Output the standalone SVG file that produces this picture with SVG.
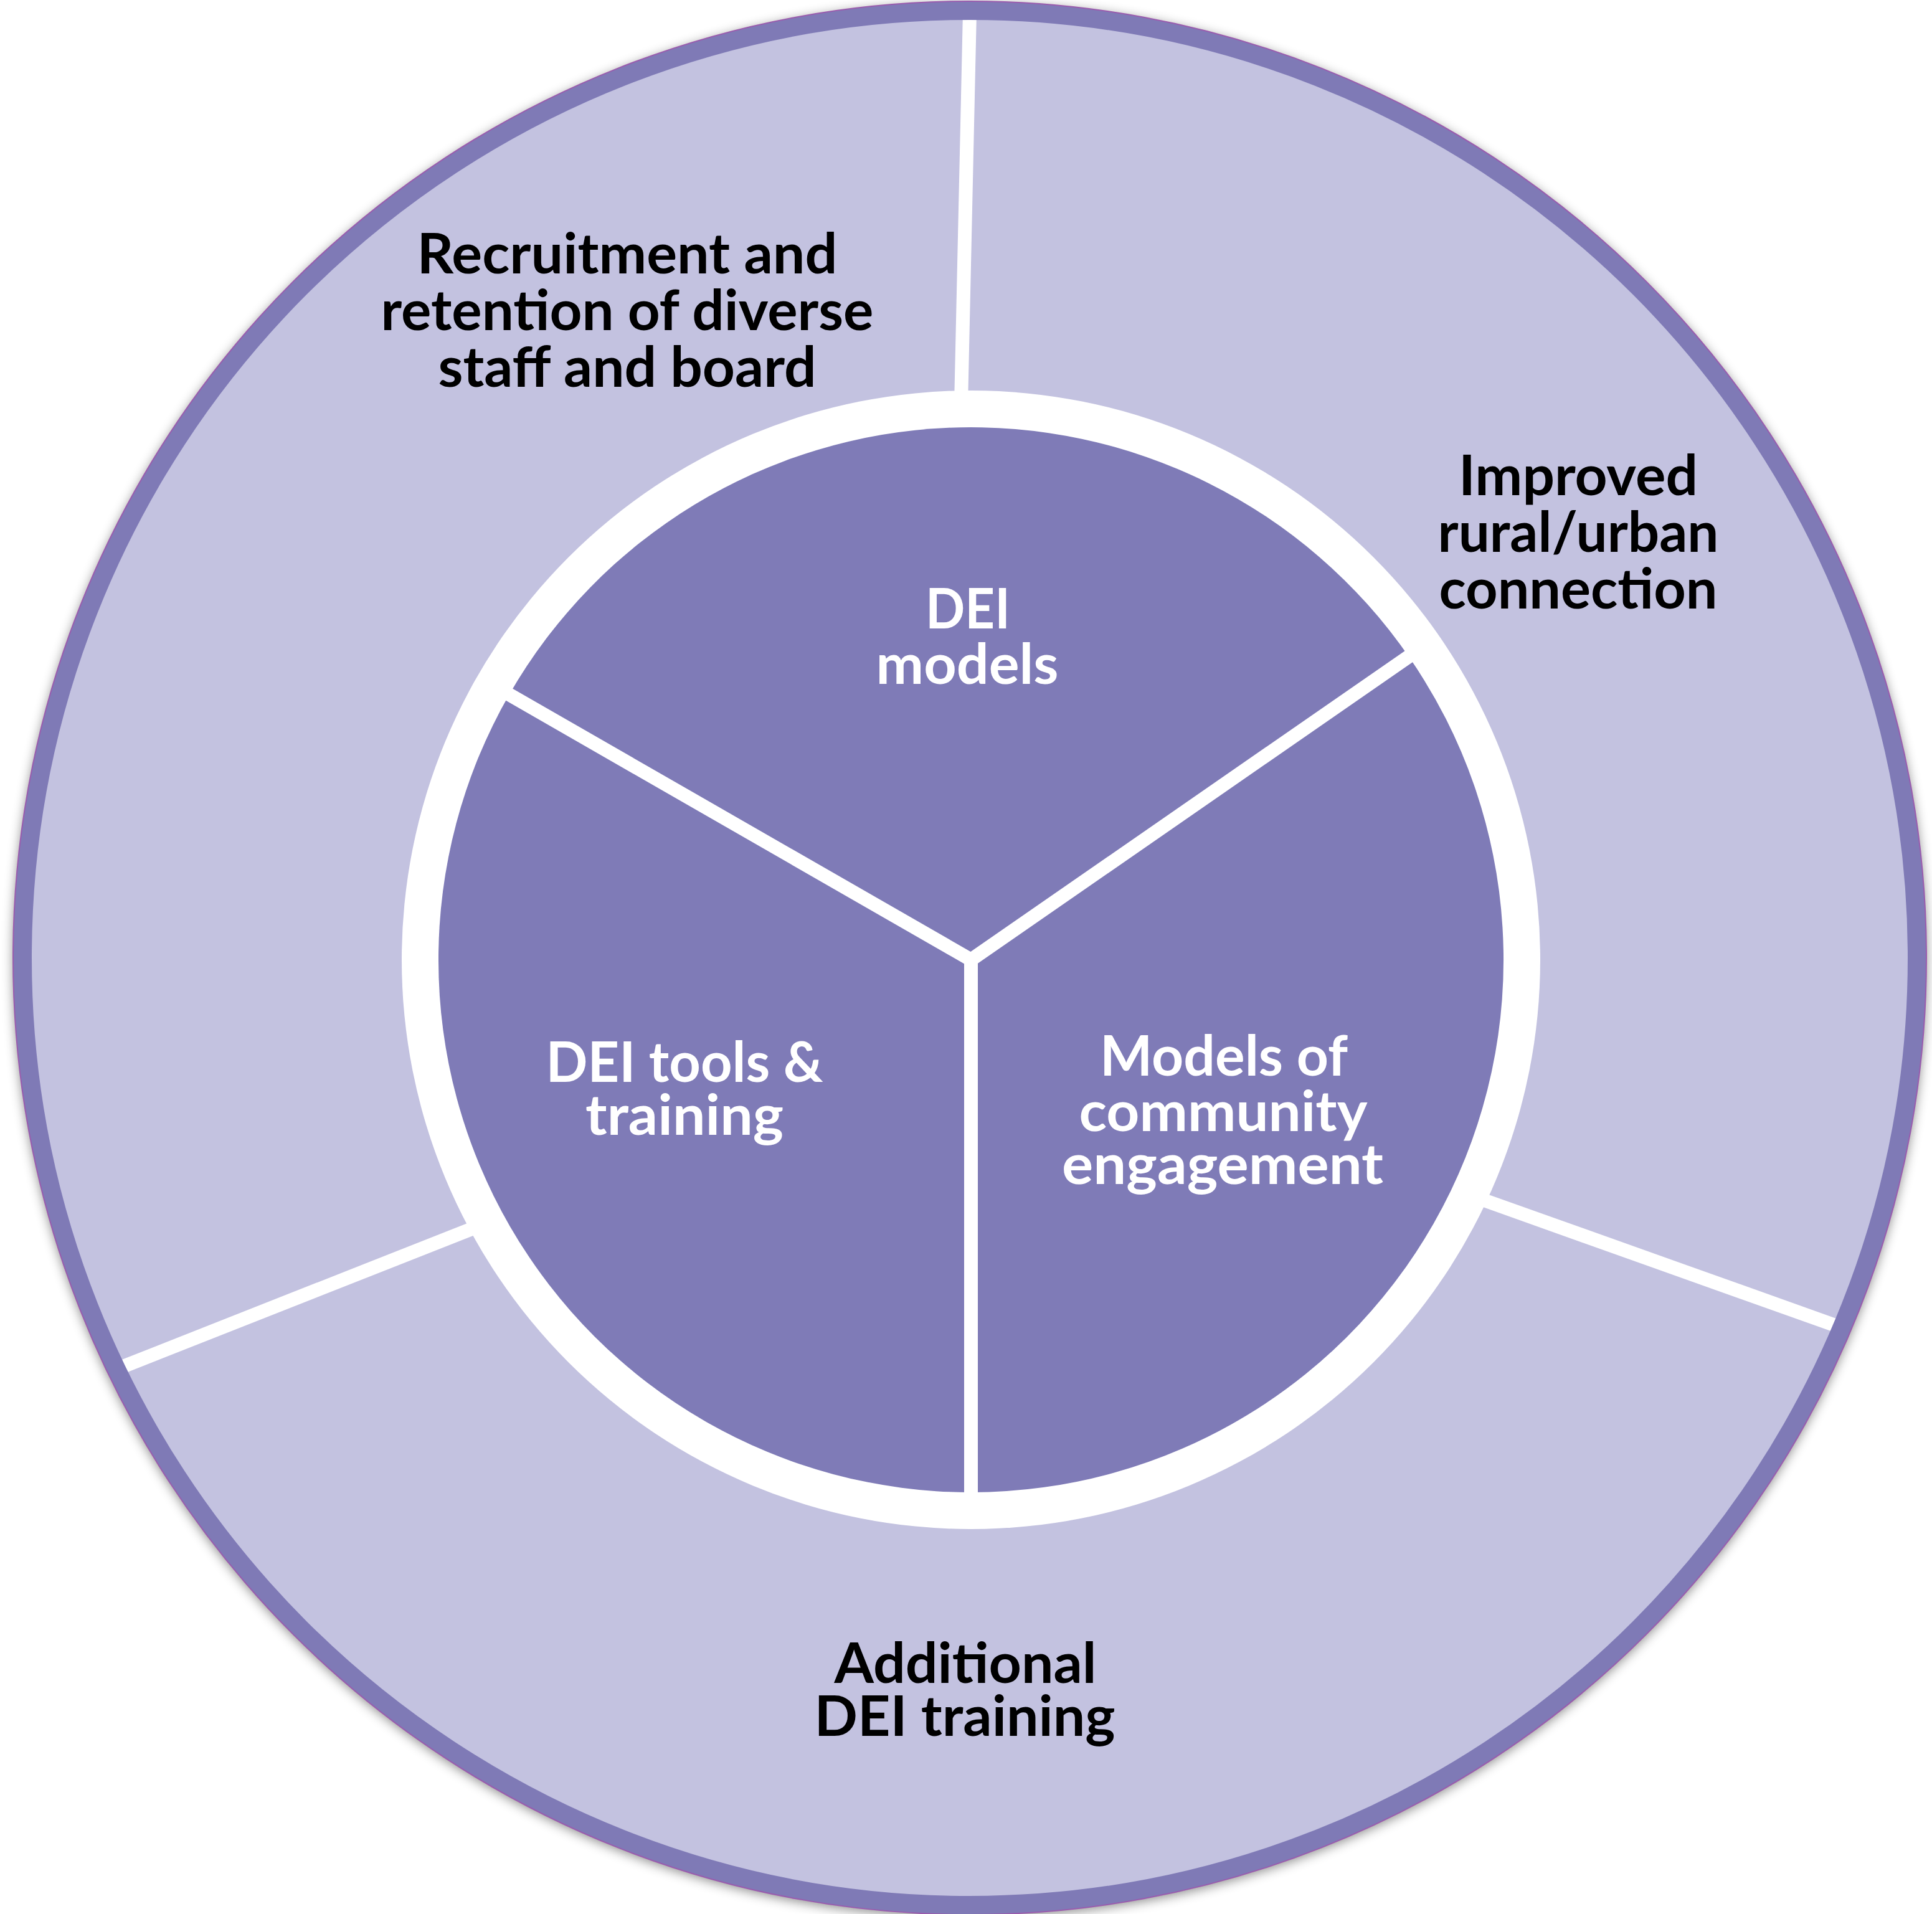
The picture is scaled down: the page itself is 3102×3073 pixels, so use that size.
<svg xmlns="http://www.w3.org/2000/svg" width="3102" height="3073" viewBox="0 0 3102 3073">
<style>
.lbl{font-family:Lato,"Liberation Sans",sans-serif;font-weight:700;font-size:90px;text-anchor:middle}
.outer{fill:#000000}
.inner{fill:#ffffff}
.div{stroke:#ffffff;stroke-width:22;fill:none;stroke-linecap:butt;stroke-linejoin:miter}
.wedge{fill:#7f7bb7}
</style>
<defs>
<filter id="sh" x="-5%" y="-5%" width="110%" height="110%">
<feDropShadow dx="0" dy="4" stdDeviation="9" flood-color="#000" flood-opacity="0.45"/>
</filter>
</defs>
<rect width="3102" height="3073" fill="#ffffff"/>
<g id="base">
<circle cx="1557" cy="1538" r="1536" fill="#c3c2e0" filter="url(#sh)"/>
</g>
<g id="connectors">
<line class="div" x1="1557" y1="20" x2="1543" y2="650"/>
<line class="div" x1="760" y1="1972" x2="185" y2="2199"/>
<line class="div" x1="2380" y1="1926" x2="2958" y2="2132"/>
</g>
<g id="ring">
<circle cx="1557" cy="1538" r="1521" fill="none" stroke="#7f7ab6" stroke-width="30"/>
<circle cx="1557" cy="1538" r="1536" fill="none" stroke="#9a5cae" stroke-width="2"/>
<circle cx="1559" cy="1541" r="914" fill="#ffffff"/>
</g>
<g id="node-dei-models">
<path class="wedge" d="M1559 1541 L817.5 1115.3 A855 855 0 0 1 2262 1054.3 Z"/>
<text class="lbl inner"><tspan x="1554" y="1009" textLength="136" lengthAdjust="spacingAndGlyphs">DEI</tspan><tspan x="1553" y="1098" textLength="293" lengthAdjust="spacingAndGlyphs">models</tspan></text>
</g>
<g id="node-community">
<path class="wedge" d="M1559 1541 L2262 1054.3 A855 855 0 0 1 1559 2396 Z"/>
<text class="lbl inner"><tspan x="1965" y="1727" textLength="398" lengthAdjust="spacingAndGlyphs">Models of</tspan><tspan x="1964" y="1816" textLength="463" lengthAdjust="spacingAndGlyphs">community</tspan><tspan x="1963" y="1901" textLength="516" lengthAdjust="spacingAndGlyphs">engagement</tspan></text>
</g>
<g id="node-dei-tools">
<path class="wedge" d="M1559 1541 L1559 2396 A855 855 0 0 1 817.5 1115.3 Z"/>
<text class="lbl inner"><tspan x="1099" y="1737" textLength="445" lengthAdjust="spacingAndGlyphs">DEI tools &amp;</tspan><tspan x="1099" y="1822" textLength="318" lengthAdjust="spacingAndGlyphs">training</tspan></text>
</g>
<g id="inner-dividers">
<polyline class="div" points="800,1105 1559,1541 2275,1045"/>
<line class="div" x1="1559" y1="1530" x2="1559" y2="2420"/>
</g>
<g id="node-recruitment">
<text class="lbl outer"><tspan x="1007" y="439" textLength="675" lengthAdjust="spacingAndGlyphs">Recruitment and</tspan><tspan x="1007" y="530" textLength="791" lengthAdjust="spacingAndGlyphs">retention of diverse</tspan><tspan x="1007" y="621" textLength="607" lengthAdjust="spacingAndGlyphs">staff and board</tspan></text>
</g>
<g id="node-rural-urban">
<text class="lbl outer"><tspan x="2534" y="795" textLength="384" lengthAdjust="spacingAndGlyphs">Improved</tspan><tspan x="2534" y="886" textLength="451" lengthAdjust="spacingAndGlyphs">rural/urban</tspan><tspan x="2534" y="977" textLength="447" lengthAdjust="spacingAndGlyphs">connection</tspan></text>
</g>
<g id="node-additional">
<text class="lbl outer"><tspan x="1550" y="2702" textLength="421" lengthAdjust="spacingAndGlyphs">Additional</tspan><tspan x="1549" y="2787" textLength="483" lengthAdjust="spacingAndGlyphs">DEI training</tspan></text>
</g>
</svg>
